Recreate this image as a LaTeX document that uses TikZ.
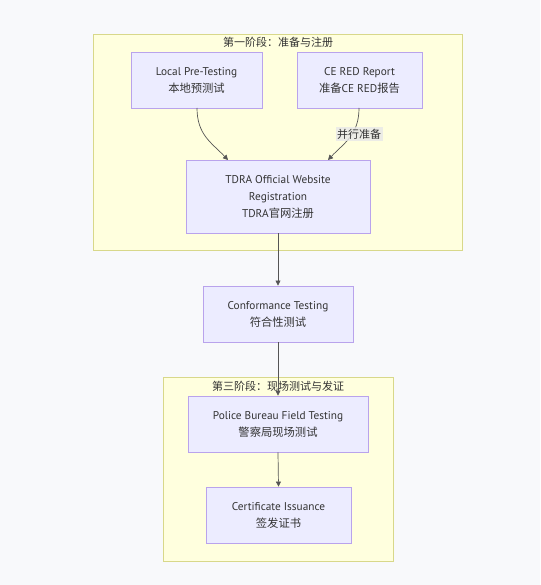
\documentclass[tikz,border=0pt]{standalone}
\usepackage{fontspec}
\setmainfont{PT Sans}
\newfontfamily\cjk{Noto Sans CJK SC}
\usetikzlibrary{arrows.meta}
\definecolor{bgc}{HTML}{F8F9FB}
\definecolor{nodefill}{HTML}{ECECFF}
\definecolor{nodeline}{HTML}{B9A3EC}
\definecolor{clfill}{HTML}{FFFFDE}
\definecolor{clline}{HTML}{D8D88A}
\definecolor{edgec}{HTML}{555555}
\definecolor{txt}{HTML}{333333}
\definecolor{lblbg}{HTML}{E8E8E8}
\tikzset{
  flowbox/.style={draw=nodeline, fill=nodefill, line width=0.9pt, inner sep=0pt, align=center, text=txt, font=\fontsize{11.3}{17}\selectfont},
  cluster/.style={draw=clline, fill=clfill, line width=0.9pt},
  cltitle/.style={text=txt, font=\cjk\fontsize{11}{13}\selectfont, inner sep=0pt},
  edge/.style={draw=edgec, line width=0.7pt, -{Triangle[length=5pt,width=5pt]}},
  elabel/.style={fill=lblbg, fill opacity=0.8, text opacity=1, text=txt, font=\cjk\fontsize{11}{13}\selectfont, inner sep=1.5pt}
}
\begin{document}
\begin{tikzpicture}[x=1pt,y=-1pt]
\fill[bgc] (0,0) rectangle (540,585);
\useasboundingbox (0,0) rectangle (540,585);
% clusters
\draw[cluster] (93,34) rectangle (462,250);
\node[cltitle] (t1) at (278,42) {第一阶段：准备与注册};
\draw[cluster] (163,377) rectangle (393,561);
\node[cltitle] (t3) at (278,386) {第三阶段：现场测试与发证};
% nodes
\node[flowbox, minimum width=131pt, minimum height=56pt] (lp) at (196.5,80) {Local Pre-Testing\\{\cjk 本地预测试}};
\node[flowbox, minimum width=125pt, minimum height=56pt] (ce) at (359.5,80) {CE RED Report\\{\cjk 准备}CE RED{\cjk 报告}};
\node[flowbox, minimum width=184pt, minimum height=73pt] (td) at (278,196.5) {TDRA Official Website\\Registration\\TDRA{\cjk 官网注册}};
\node[flowbox, minimum width=150pt, minimum height=56pt] (cf) at (278,314) {Conformance Testing\\{\cjk 符合性测试}};
\node[flowbox, minimum width=180pt, minimum height=56pt] (pb) at (278,424) {Police Bureau Field Testing\\{\cjk 警察局现场测试}};
\node[flowbox, minimum width=145pt, minimum height=56pt] (ci) at (278.5,515) {Certificate Issuance\\{\cjk 签发证书}};
% edges
\coordinate (lpo) at (197,108);
\coordinate (tdi1) at (228,160);
\coordinate (ceo) at (359,108);
\coordinate (tdi2) at (328,160);
\draw[edge] (lpo) .. controls (197,135) and (212,143) .. (tdi1);
\draw[edge] (ceo) .. controls (359,135) and (344,143) .. (tdi2);
\node[elabel] (el) at (359,134) {并行准备};
\draw[edge] (td.south) -- (cf.north);
\draw[edge] (cf.south) -- (pb.north);
\draw[edge] (pb.south) -- (ci.north);
\end{tikzpicture}
\end{document}
